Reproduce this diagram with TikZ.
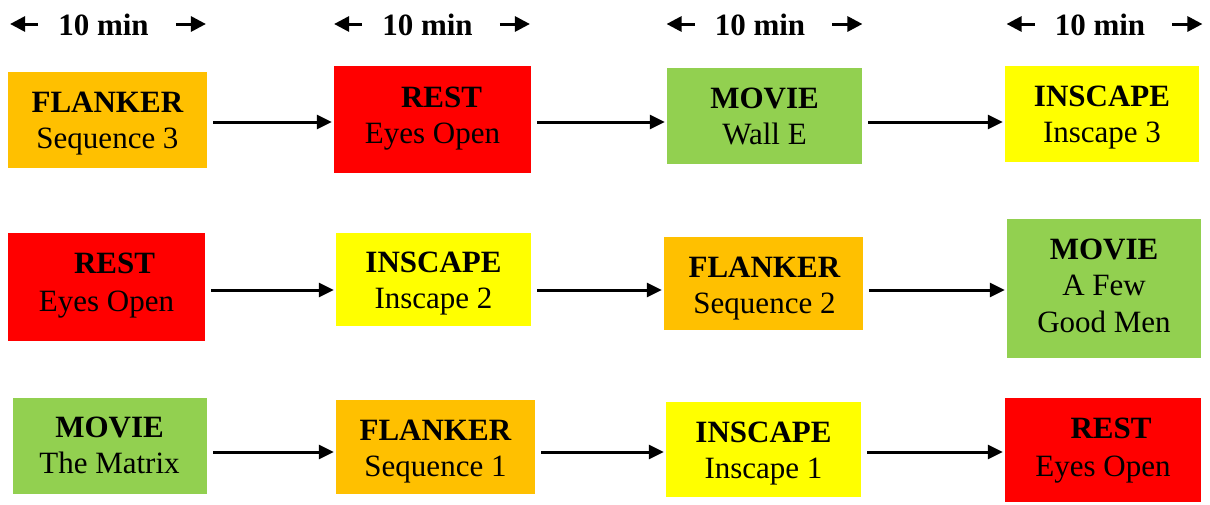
\documentclass[tikz,border=0pt]{standalone}
\usepackage{fontspec}
\setmainfont{Liberation Serif}
\usetikzlibrary{arrows.meta}
\definecolor{cOrange}{HTML}{FFC000}
\definecolor{cRed}{HTML}{FF0000}
\definecolor{cGreen}{HTML}{92D050}
\definecolor{cYellow}{HTML}{FFFF00}
\begin{document}
\begin{tikzpicture}[x=1pt,y=-1pt,
  box/.style={rectangle, inner sep=0pt, draw=none},
  txt/.style={inner sep=0pt, anchor=base, align=center, font=\fontsize{31}{36}\selectfont, text=black},
  conn/.style={line width=3pt, -{Triangle[length=15pt,width=14pt]}, shorten <=6pt, shorten >=2pt},
  tarrow/.style={line width=3pt, -{Triangle[length=15pt,width=15pt]}},
  tlabel/.style={inner sep=0pt, anchor=base, font=\fontsize{31}{36}\selectfont\bfseries}]
\useasboundingbox (0,0) rectangle (1210,504);
% rows
\coordinate (r1) at (0,122);
\coordinate (r2) at (0,290);
\coordinate (r3) at (0,452);
% top labels
\foreach \n/\cx in {t1/103.5, t2/427.5, t3/760, t4/1100}{
  \node[tlabel] (\n) at (\cx,35) {10 min};
  \draw[tarrow] ([xshift=-20pt,yshift=11pt]\n.base west) -- ++(-28,0);
  \draw[tarrow] ([xshift=27pt,yshift=11pt]\n.base east) -- ++(30,0);
}
% row 1
\node[box, fill=cOrange, minimum width=199pt, minimum height=96pt] (a1) at (107.5,120) {};
\node[box, fill=cRed, minimum width=197pt, minimum height=107pt] (a2) at (432.5,119.5) {};
\node[box, fill=cGreen, minimum width=195pt, minimum height=96pt] (a3) at (764.5,116) {};
\node[box, fill=cYellow, minimum width=194pt, minimum height=96pt] (a4) at (1102,114) {};
\node[txt] (a1t) at (107.5,148) {\textbf{FLANKER}\\Sequence 3};
\node[txt] (a2t) at (432.5,143) {\hspace*{18pt}\textbf{REST}\\Eyes Open};
\node[txt] (a3t) at (764.5,144) {\textbf{MOVIE}\\Wall E};
\node[txt] (a4t) at (1102,142) {\textbf{INSCAPE}\\Inscape 3};
% row 2
\node[box, fill=cRed, minimum width=197pt, minimum height=108pt] (b1) at (106.5,287) {};
\node[box, fill=cYellow, minimum width=195pt, minimum height=93pt] (b2) at (433.5,279.5) {};
\node[box, fill=cOrange, minimum width=199pt, minimum height=93pt] (b3) at (763.5,283.5) {};
\node[box, fill=cGreen, minimum width=194pt, minimum height=139pt] (b4) at (1104,288.5) {};
\node[txt] (b1t) at (106.5,311) {\hspace*{16pt}\textbf{REST}\\[2pt]Eyes Open};
\node[txt] (b2t) at (433.5,308) {\textbf{INSCAPE}\\Inscape 2};
\node[txt] (b3t) at (764.5,313) {\textbf{FLANKER}\\Sequence 2};
\node[txt] (b4t) at (1104,332) {\textbf{MOVIE}\\A Few\\[1pt]Good Men};
% row 3
\node[box, fill=cGreen, minimum width=194pt, minimum height=96pt] (c1) at (110,446) {};
\node[box, fill=cOrange, minimum width=199pt, minimum height=94pt] (c2) at (435.5,447) {};
\node[box, fill=cYellow, minimum width=195pt, minimum height=95pt] (c3) at (763.5,449.5) {};
\node[box, fill=cRed, minimum width=196pt, minimum height=104pt] (c4) at (1103,450) {};
\node[txt] (c1t) at (109.5,473) {\textbf{MOVIE}\\The Matrix};
\node[txt] (c2t) at (435.5,476) {\textbf{FLANKER}\\Sequence 1};
\node[txt] (c3t) at (763.5,478) {\textbf{INSCAPE}\\Inscape 1};
\node[txt] (c4t) at (1103,476) {\hspace*{16pt}\textbf{REST}\\[2pt]Eyes Open};
% connectors
\draw[conn] (a1.east |- r1) -- (a2.west |- r1);
\draw[conn] (a2.east |- r1) -- (a3.west |- r1);
\draw[conn] (a3.east |- r1) -- (a4.west |- r1);
\draw[conn] (b1.east |- r2) -- (b2.west |- r2);
\draw[conn] (b2.east |- r2) -- (b3.west |- r2);
\draw[conn] (b3.east |- r2) -- (b4.west |- r2);
\draw[conn] (c1.east |- r3) -- (c2.west |- r3);
\draw[conn] (c2.east |- r3) -- (c3.west |- r3);
\draw[conn] (c3.east |- r3) -- (c4.west |- r3);
\end{tikzpicture}
\end{document}
